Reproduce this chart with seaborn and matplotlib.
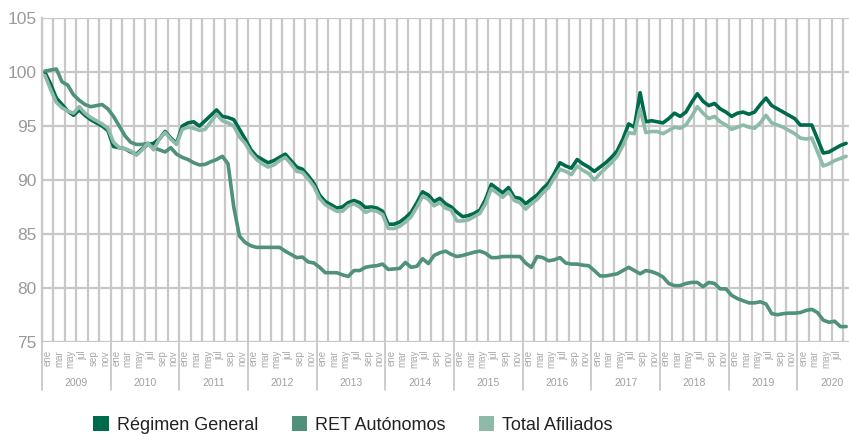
import matplotlib
matplotlib.use('Agg')
import matplotlib.pyplot as plt
import matplotlib.transforms as mtransforms
from matplotlib.patches import Patch
import seaborn as sns
import numpy as np
import pandas as pd

# Monthly index values, ene 2009 .. sep 2020
years = list(range(2009, 2021))
month_labels = ['ene', 'mar', 'may', 'jul', 'sep', 'nov']

regimen_general = [
    100.0, 98.9, 97.6, 97.0, 96.4, 96.0, 96.5, 96.0, 95.6, 95.3, 95.0, 94.6,   # 2009
    93.1, 93.0, 92.9, 92.6, 92.4, 92.9, 93.3, 93.4, 93.8, 94.5, 93.9, 93.4,    # 2010
    95.0, 95.3, 95.4, 95.0, 95.5, 96.0, 96.5, 95.9, 95.8, 95.6, 94.7, 93.8,    # 2011
    92.8, 92.2, 91.9, 91.6, 91.8, 92.1, 92.4, 91.8, 91.2, 91.0, 90.4, 89.7,    # 2012
    88.6, 88.0, 87.7, 87.4, 87.5, 87.9, 88.1, 87.9, 87.45, 87.5, 87.4, 87.1,   # 2013
    85.9, 85.9, 86.1, 86.5, 87.0, 87.9, 88.9, 88.6, 88.0, 88.3, 87.8, 87.5,    # 2014
    87.0, 86.6, 86.7, 86.9, 87.2, 88.2, 89.6, 89.2, 88.8, 89.3, 88.4, 88.3,    # 2015
    87.8, 88.2, 88.6, 89.2, 89.7, 90.6, 91.6, 91.3, 91.1, 91.9, 91.5, 91.2,    # 2016
    90.8, 91.2, 91.6, 92.1, 92.7, 93.8, 95.2, 94.9, 98.1, 95.4, 95.5, 95.4,    # 2017
    95.3, 95.7, 96.2, 95.9, 96.3, 97.2, 98.0, 97.3, 96.9, 97.1, 96.6, 96.3,    # 2018
    95.9, 96.2, 96.3, 96.1, 96.3, 97.0, 97.6, 96.9, 96.6, 96.3, 96.0, 95.7,    # 2019
    95.1, 95.1, 95.1, 93.8, 92.5, 92.6, 92.9, 93.2, 93.4,                      # 2020
]

ret_autonomos = [
    100.1, 100.2, 100.3, 99.1, 98.8, 97.9, 97.4, 97.0, 96.8, 96.9, 97.0, 96.6,
    95.9, 95.0, 94.1, 93.5, 93.3, 93.3, 93.4, 93.0, 92.8, 92.6, 93.0, 92.4,
    92.1, 91.9, 91.6, 91.4, 91.45, 91.7, 91.9, 92.2, 91.5, 87.5, 84.8, 84.2,
    83.9, 83.75, 83.75, 83.75, 83.75, 83.75, 83.4, 83.1, 82.8, 82.85, 82.4, 82.3,
    81.9, 81.4, 81.4, 81.4, 81.2, 81.05, 81.6, 81.6, 81.9, 82.0, 82.05, 82.2,
    81.7, 81.75, 81.8, 82.35, 81.9, 82.0, 82.7, 82.25, 83.0, 83.25, 83.4, 83.1,
    82.9, 83.0, 83.15, 83.3, 83.4, 83.2, 82.8, 82.8, 82.9, 82.9, 82.9, 82.9,
    82.3, 81.9, 82.9, 82.8, 82.5, 82.6, 82.8, 82.3, 82.2, 82.2, 82.1, 82.05,
    81.6, 81.1, 81.1, 81.2, 81.3, 81.6, 81.9, 81.6, 81.3, 81.6, 81.5, 81.3,
    81.0, 80.4, 80.2, 80.2, 80.4, 80.5, 80.5, 80.1, 80.5, 80.4, 79.9, 79.9,
    79.3, 79.0, 78.8, 78.6, 78.6, 78.7, 78.5, 77.6, 77.5, 77.6, 77.65, 77.65,
    77.7, 77.9, 78.0, 77.7, 77.0, 76.8, 76.9, 76.4, 76.4,
]

total_afiliados = [
    99.7, 98.4, 97.2, 96.7, 96.4, 96.2, 96.8, 96.2, 95.8, 95.5, 95.2, 94.8,
    93.5, 93.0, 92.9, 92.7, 92.3, 92.8, 93.4, 92.8, 93.8, 94.4, 93.8, 93.3,
    94.7, 94.9, 94.8, 94.6, 94.7, 95.4, 96.1, 95.5, 95.3, 95.0, 94.0, 93.4,
    92.5, 91.9, 91.5, 91.2, 91.4, 91.8, 92.1, 91.5, 90.8, 90.7, 90.1, 89.4,
    88.3, 87.7, 87.4, 87.1, 87.1, 87.6, 87.8, 87.5, 87.0, 87.2, 87.1, 86.8,
    85.5, 85.5, 85.7, 86.1, 86.6, 87.5, 88.5, 88.2, 87.6, 87.9, 87.4, 87.2,
    86.2, 86.2, 86.3, 86.6, 86.9, 87.8, 89.2, 88.8, 88.4, 88.9, 88.1, 87.9,
    87.3, 87.8, 88.2, 88.8, 89.3, 90.2, 91.0, 90.8, 90.5, 91.3, 90.9, 90.6,
    90.0, 90.6, 91.1, 91.6, 92.2, 93.2, 94.4, 94.3, 96.6, 94.4, 94.5, 94.5,
    94.3, 94.6, 94.9, 94.8, 95.1, 95.9, 96.8, 96.2, 95.7, 95.9, 95.4, 95.1,
    94.7, 94.9, 95.1, 94.9, 94.8, 95.3, 96.0, 95.3, 95.1, 94.9, 94.6, 94.3,
    93.9, 93.8, 93.9, 92.6, 91.3, 91.5, 91.8, 92.0, 92.2,
]

series_names = ['Régimen General', 'RET Autónomos', 'Total Afiliados']
colors = ['#006A4D', '#4F917A', '#8DBBA8']
grid_color = '#C8C8C8'
text_color = '#9A9A9A'

n = len(regimen_general)
pos = np.arange(n) + 0.5
df = pd.concat([
    pd.DataFrame({'pos': pos, 'valor': vals, 'serie': name})
    for name, vals in zip(series_names, [regimen_general, ret_autonomos, total_afiliados])
], ignore_index=True)

sns.set_style('white')
plt.rcParams['font.family'] = ['Liberation Sans', 'DejaVu Sans']

fig = plt.figure(figsize=(8.49, 4.34), dpi=100)
ax = fig.add_axes([0.0495, 0.2127, 0.9505, 0.7451])

sns.lineplot(data=df, x='pos', y='valor', hue='serie', hue_order=series_names,
             palette=colors, linewidth=2.6, legend=False, ax=ax)

xmax = 141
ax.set_xlim(0, xmax)
ax.set_ylim(75, 105)
ax.set_yticks(range(75, 106, 5))
ax.set_xlabel('')
ax.set_ylabel('')

# vertical grid every two months, horizontal every 5 points
ax.set_xticks(np.arange(0, xmax + 1, 2), minor=True)
ax.grid(axis='y', which='major', color=grid_color, linewidth=1.6)
ax.grid(axis='x', which='minor', color=grid_color, linewidth=1.6)
ax.set_axisbelow(True)

tick_pos, tick_lab = [], []
for k, yr in enumerate(years):
    for j, m in enumerate(month_labels):
        p = 12 * k + 2 * j + 1
        if p < xmax - 1:
            tick_pos.append(p)
            tick_lab.append(m)
ax.set_xticks(tick_pos)
ax.set_xticklabels(tick_lab, rotation=90, fontsize=7, color='#AAAAAA',
                   family=['Liberation Sans Narrow', 'Liberation Sans'])
ax.tick_params(axis='x', which='both', length=0, pad=6)
ax.tick_params(axis='y', length=0, pad=4, labelsize=12.5, labelcolor=text_color)

for s in ['top', 'right', 'bottom']:
    ax.spines[s].set_visible(False)
ax.spines['left'].set_color(grid_color)
ax.spines['left'].set_linewidth(1.6)

# year separators and year labels under the month labels
trans = mtransforms.blended_transform_factory(ax.transData, ax.transAxes)
for k, yr in enumerate(years):
    ax.plot([12 * k, 12 * k], [0, -0.15], transform=trans, color=grid_color,
            linewidth=1.3, clip_on=False)
    ax.text(12 * k + 6, -0.128, str(yr), transform=trans, ha='center', va='center',
            fontsize=7.5, color='#A0A0A0',
            family=['Liberation Sans Narrow', 'Liberation Sans'])

handles = [Patch(facecolor=c, edgecolor='none', label=l) for c, l in zip(colors, series_names)]
fig.legend(handles=handles, loc='center', bbox_to_anchor=(0.416, 0.021), ncol=3,
           frameon=False, fontsize=13, handlelength=0.85, handleheight=0.85,
           handletextpad=0.45, columnspacing=1.85, labelcolor='#222222')

fig.savefig('out.png', dpi=100)
plt.close(fig)
